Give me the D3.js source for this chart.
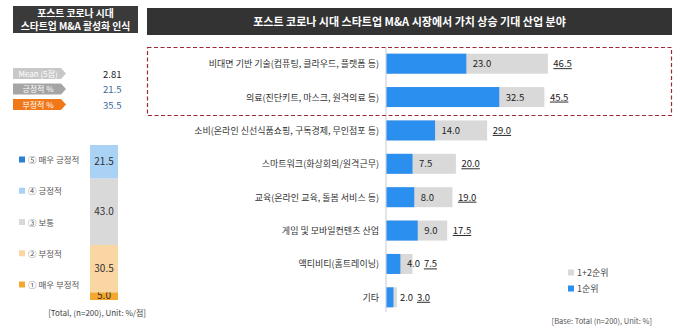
<!DOCTYPE html>
<html><head><meta charset="utf-8">
<script src="https://cdn.jsdelivr.net/npm/d3@7"></script>
<style>
body{margin:0;background:#fff;}
svg{font-family:"Noto Sans CJK KR","Noto Sans",sans-serif;}
</style></head>
<body><svg id="c" width="680" height="329"></svg>
<script>
// ---- data ----
const categories = ["비대면 기반 기술(컴퓨팅, 클라우드, 플랫폼 등)","의료(진단키트, 마스크, 원격의료 등)","소비(온라인 신선식품쇼핑, 구독경제, 무인점포 등)","스마트워크(화상회의/원격근무)","교육(온라인 교육, 돌봄 서비스 등)","게임 및 모바일컨텐츠 산업","액티비티(홈트레이닝)","기타"];
const rank1 = [23.0, 32.5, 14.0, 7.5, 8.0, 9.0, 4.0, 2.0];
const rank12 = [46.5, 45.5, 29.0, 20.0, 19.0, 17.5, 7.5, 3.0];
const seriesNames = ["1+2순위","1순위"];

const stackLabels = ["① 매우 부정적","② 부정적","③ 보통","④ 긍정적","⑤ 매우 긍정적"];
const stackValues = [5.0, 30.5, 43.0, 21.5, 0.0];
const summaryLabels = ["Mean (5점)","긍정적 %","부정적 %"];
const summaryValues = ["2.81","21.5","35.5"];

const svg = d3.select("#c");

// ---- Left title ----
svg.append("rect").attr("x",13).attr("y",6).attr("width",125).attr("height",27).attr("fill","#3a3a3a");
svg.append("text").attr("x",75.5).attr("y",16.5).attr("text-anchor","middle").attr("fill","#fff")
  .attr("font-size",9.8).attr("font-weight","bold").text("포스트 코로나 시대");
svg.append("text").attr("x",75.5).attr("y",29.5).attr("text-anchor","middle").attr("fill","#fff")
  .attr("font-size",9.8).attr("font-weight","bold").text("스타트업 M&A 활성화 인식");

// ---- summary badges ----
const badgeFill = ["#c8c8c8","#a5a5a5","#f07818"];
const valFill = ["#222","#3b6aa0","#3b6aa0"];
summaryLabels.forEach((l,i)=>{
  const y0 = 68 + i*15.5, h = 11;
  svg.append("polygon").attr("points",`13,${y0} 61,${y0} 66,${y0+h/2} 61,${y0+h} 13,${y0+h}`).attr("fill",badgeFill[i]);
  svg.append("text").attr("x",38).attr("y",y0+8.5).attr("text-anchor","middle").attr("fill","#fff")
    .attr("font-size",8).text(l);
  svg.append("text").attr("x",103).attr("y",y0+9.5).attr("fill",valFill[i]).attr("font-size",9.5).text(summaryValues[i]);
});

// ---- stacked bar ----
const stackColors = ["#f5a830","#fad6a2","#d9d9d9","#a9d2f5","#2a7fd4"];
const yS = d3.scaleLinear().domain([0,100]).range([300,145]);
let cum = 0;
stackValues.forEach((v,i)=>{
  const y1 = yS(cum+v), y0 = yS(cum);
  svg.append("rect").attr("x",90).attr("y",y1).attr("width",28).attr("height",y0-y1).attr("fill",stackColors[i]);
  if(v>0){
    const yc = v<8 ? y0-1.5 : (y0+y1)/2+3.5;
    svg.append("text").attr("x",104).attr("y",yc).attr("text-anchor","middle").attr("font-size",10).attr("fill","#333")
      .text(v.toFixed(1));
  }
  cum += v;
});
// left legend (top = ⑤)
const legY = d3.scalePoint().domain(d3.range(5)).range([285,160]);
stackLabels.forEach((l,i)=>{
  const y = legY(i);
  svg.append("rect").attr("x",19).attr("y",y-3.5).attr("width",6).attr("height",6).attr("fill",stackColors[i]);
  svg.append("text").attr("x",28).attr("y",y+3).attr("font-size",8.5).attr("fill","#555").text(l);
});
svg.append("text").attr("x",146).attr("y",316).attr("text-anchor","end").attr("font-size",8).attr("fill","#444")
  .text("[Total, (n=200), Unit: %/점]");

// ---- Right title ----
svg.append("rect").attr("x",147).attr("y",8).attr("width",525).attr("height",27).attr("fill","#333");
svg.append("text").attr("x",409.5).attr("y",25.5).attr("text-anchor","middle").attr("fill","#fff")
  .attr("font-size",11).attr("font-weight","bold").text("포스트 코로나 시대 스타트업 M&A 시장에서 가치 상승 기대 산업 분야");

// ---- horizontal bars ----
const x = d3.scaleLinear().domain([0,100]).range([386, 386+347]);
const yP = d3.scalePoint().domain(categories).range([47,314]).padding(0.5);
const bh = 20;
svg.append("line").attr("x1",386).attr("x2",386).attr("y1",47).attr("y2",312).attr("stroke","#c5ccd3").attr("stroke-width",1);
const g = svg.append("g");
categories.forEach((c,i)=>{
  const yc = yP(c);
  g.append("rect").attr("x",x(0)+0.5).attr("y",yc-bh/2).attr("width",x(rank12[i])-x(0)).attr("height",bh).attr("fill","#d9d9d9");
  g.append("rect").attr("x",x(0)+0.5).attr("y",yc-bh/2).attr("width",x(rank1[i])-x(0)).attr("height",bh).attr("fill","#2b8ff0");
  const bx = x(rank1[i]) + 7;
  g.append("text").attr("x",bx).attr("y",yc+3.5).attr("font-size",9.5).attr("fill","#222").text(rank1[i].toFixed(1));
  const gx = Math.max(x(rank12[i]) + 6, bx + 17);
  g.append("text").attr("x",gx).attr("y",yc+3.5).attr("font-size",9.5).attr("fill","#222")
    .attr("text-decoration","underline").text(rank12[i].toFixed(1));
  g.append("text").attr("x",379).attr("y",yc+3.5).attr("text-anchor","end").attr("font-size",9).attr("fill","#333").text(c);
});

// dashed highlight box
svg.append("rect").attr("x",147.5).attr("y",47.5).attr("width",524).attr("height",68).attr("fill","none")
  .attr("stroke","#9e2a35").attr("stroke-width",1.2).attr("stroke-dasharray","4,2.5");

// right legend
const legCols = ["#d9d9d9","#2b8ff0"];
seriesNames.forEach((s,i)=>{
  const y = 273 + i*16;
  svg.append("rect").attr("x",568).attr("y",y-3.5).attr("width",6).attr("height",6).attr("fill",legCols[i]);
  svg.append("text").attr("x",577).attr("y",y+3).attr("font-size",9).attr("fill","#444").text(s);
});
svg.append("text").attr("x",652).attr("y",324).attr("text-anchor","end").attr("font-size",7.5).attr("fill","#555")
  .text("[Base: Total (n=200), Unit: %]");
</script></body></html>
